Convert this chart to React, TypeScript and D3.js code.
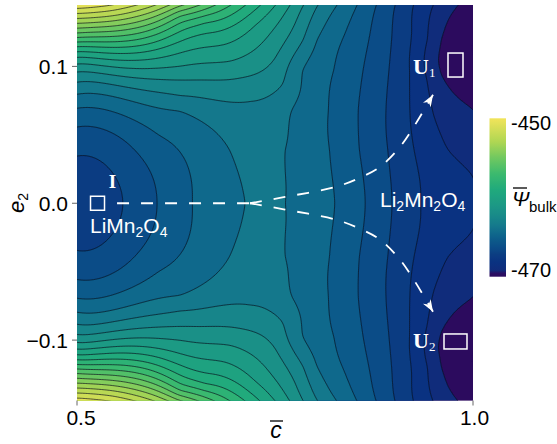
import React, { useMemo } from 'react';
import * as d3 from 'd3';

const WIDTH = 557;
const HEIGHT = 444;
const PLOT_LEFT = 77;
const PLOT_RIGHT = 473;
const PLOT_TOP = 5;
const PLOT_BOTTOM = 400.5;

const C_DOMAIN: [number, number] = [0.5, 1.0];
const E_DOMAIN: [number, number] = [-0.1445, 0.1445];
const C_TICKS = [0.5, 1.0];
const E_TICKS = [-0.1, 0.0, 0.1];
const BAR_TICKS = [-450, -470];
const BAR_LIMITS: [number, number] = [-470.95, -449.3];
const LEVELS = d3.range(-471, -449, 1);

// colour map (position, colour)
const CMAP_POS = [0, 0.022, 0.04, 0.09, 0.14, 0.18, 0.23, 0.275, 0.32, 0.37, 0.45, 0.55, 0.65, 0.75, 0.85, 1];
const CMAP_COL = ['#2c0b5e', '#2a0f64', '#102c7b', '#0a3281', '#0b3d82', '#0b4b87', '#0c5a8a', '#0f698c', '#14788c', '#17868a', '#1c9885', '#20aa7c', '#3cba6e', '#70c860', '#aed653', '#f2e45a'];

// Ψ̄bulk along e2 = 0
const ROW_C = [0.5, 0.558, 0.601, 0.645, 0.716, 0.738, 0.76, 0.826, 0.864, 0.898, 0.933, 1.0];
const ROW_PSI = [-467.6, -467, -466, -465, -464, -463.6, -464, -465, -466, -467, -468, -468.9];

// Ψ̄bulk along c̄ = 0.5
const LEFT_E = [0.0345, 0.0557, 0.0696, 0.0794, 0.0882, 0.0963, 0.1017, 0.107, 0.1108, 0.1145, 0.118, 0.121, 0.124, 0.128, 0.1315, 0.135, 0.1388, 0.1426];
const LEFT_PSI = [-467, -466, -465, -464, -463, -462, -461, -460, -459, -458, -457, -456, -455, -454, -453, -452, -451, -450];

// Ψ̄bulk along c̄ = 1.0
const RIGHT_E = [0.0208, 0.0697, 0.105, 0.1445];
const RIGHT_PSI = [-469, -470, -470.95, -470.4];

// Ψ̄bulk along the upper edge, e2 = 0.1445
const TOP_E = 0.1445;
const TOP_C = [0.5, 0.5417, 0.5732, 0.5985, 0.6174, 0.6364, 0.6553, 0.6742, 0.6932, 0.7121, 0.7311, 0.75, 0.7689, 0.7854, 0.803, 0.8283, 0.8535, 0.8775, 0.9015, 0.9242, 0.9495, 0.981];
const TOP_PSI = [-449.3, -450, -451, -452, -453, -454, -455, -456, -457, -458, -459, -460, -461, -462, -463, -464, -465, -466, -467, -468, -469, -470];

// points
const TRACE_C = [
  0.541, 0.571, 0.6023, 0.63, 0.6932,
  0.63, 0.7184, 0.7626, 0.7879,
  0.63, 0.7058, 0.75, 0.7753,
  0.63, 0.6932, 0.7374,
  0.63, 0.6869, 0.7247,
  0.63, 0.6742,
  0.63, 0.6616,
  0.63, 0.63,
  0.74,
  0.7601, 0.7689, 0.7816, 0.8005,
  0.8194, 0.8182, 0.8258, 0.8384,
  0.8561, 0.8548, 0.8611, 0.87,
  0.8927, 0.8902, 0.8939, 0.8977,
  0.9255, 0.9205, 0.9205, 0.923,
  0.9672, 0.9495, 0.9432, 0.9444,
  0.9773, 0.9583, 0.9545, 0.9583, 0.9684,
];
const TRACE_E = [
  0.025, 0.04, 0.0492, 0.0687, 0.0393,
  0.0778, 0.0752, 0.0866, 0.1193,
  0.0902, 0.0917, 0.1049, 0.1305,
  0.0998, 0.1034, 0.1193,
  0.11, 0.1159, 0.1305,
  0.118, 0.1246,
  0.1254, 0.1327,
  0.132, 0.1379,
  0.045,
  0.039, 0.0683, 0.0976, 0.1196,
  0.039, 0.0683, 0.0976, 0.1232,
  0.039, 0.0683, 0.0976, 0.1232,
  0.039, 0.0683, 0.0976, 0.1232,
  0.039, 0.0683, 0.0976, 0.1232,
  0.039, 0.0646, 0.0902, 0.1196,
  0.0792, 0.0939, 0.1049, 0.1196, 0.1342,
];
const TRACE_PSI = [
  -467, -466, -465, -464, -464,
  -463, -463, -463, -463,
  -462, -462, -462, -462,
  -461, -461, -461,
  -460, -460, -460,
  -459, -459,
  -458, -458,
  -457, -456,
  -463.4,
  -464, -464, -464, -464,
  -465, -465, -465, -465,
  -466, -466, -466, -466,
  -467, -467, -467, -467,
  -468, -468, -468, -468,
  -469, -469, -469, -469,
  -470, -470, -470, -470, -470,
];

// transformation pathway I -> saddle -> U1 / U2
const LINK_C = [0.5354, 0.7184];
const PATH_C = [0.7184, 0.7626, 0.827, 0.857, 0.8826, 0.9078, 0.9268, 0.9495];
const PATH_E = [0.0, 0.0046, 0.012, 0.0186, 0.0266, 0.0412, 0.0573, 0.0793];

// state markers (centre in data units, size in px)
const STATES = [
  { c: 0.5259, e: 0.0, w: 14, h: 14 },
  { c: 0.9779, e: 0.101, w: 15, h: 24 },
  { c: 0.9779, e: -0.101, w: 23, h: 15 },
];

const SANS = "'Liberation Sans', Arial, Helvetica, sans-serif";
const SERIF = "'Liberation Serif', 'Times New Roman', serif";

function solve(A: number[][], b: number[]): number[] {
  const n = b.length;
  const M = A.map((r, i) => [...r, b[i]]);
  for (let k = 0; k < n; k++) {
    let p = k;
    for (let i = k + 1; i < n; i++) if (Math.abs(M[i][k]) > Math.abs(M[p][k])) p = i;
    [M[k], M[p]] = [M[p], M[k]];
    for (let i = k + 1; i < n; i++) {
      const f = M[i][k] / M[k][k];
      if (f === 0) continue;
      for (let j = k; j <= n; j++) M[i][j] -= f * M[k][j];
    }
  }
  const x = new Array(n).fill(0);
  for (let i = n - 1; i >= 0; i--) {
    let s = M[i][n];
    for (let j = i + 1; j < n; j++) s -= M[i][j] * x[j];
    x[i] = s / M[i][i];
  }
  return x;
}

// smoothing thin-plate spline through the read values (mirrored in e2)
function buildSurface() {
  const raw: [number, number, number][] = [];
  ROW_C.forEach((c, i) => raw.push([c, 0, ROW_PSI[i]]));
  LEFT_E.forEach((e, i) => raw.push([0.5, e, LEFT_PSI[i]]));
  RIGHT_E.forEach((e, i) => raw.push([1.0, e, RIGHT_PSI[i]]));
  TOP_C.forEach((c, i) => raw.push([c, TOP_E, TOP_PSI[i]]));
  TRACE_C.forEach((c, i) => raw.push([c, TRACE_E[i], TRACE_PSI[i]]));
  const pts: [number, number, number][] = [];
  raw.forEach(([c, e, v]) => {
    pts.push([c, e, v]);
    if (e > 0) pts.push([c, -e, v]);
  });
  const sx = (c: number) => (c - 0.5) * 2;
  const sy = (e: number) => (e * 1366) / 396;
  const P = pts.map(([c, e, v]) => [sx(c), sy(e), v]);
  const kern = (r2: number) => (r2 <= 0 ? 0 : 0.5 * r2 * Math.log(r2));
  const n = P.length;
  const N = n + 3;
  const A = Array.from({ length: N }, () => new Array(N).fill(0));
  const b = new Array(N).fill(0);
  for (let i = 0; i < n; i++) {
    for (let j = 0; j < n; j++) {
      const dx = P[i][0] - P[j][0];
      const dy = P[i][1] - P[j][1];
      A[i][j] = kern(dx * dx + dy * dy);
    }
    A[i][i] += 1.5e-3;
    A[i][n] = 1; A[i][n + 1] = P[i][0]; A[i][n + 2] = P[i][1];
    A[n][i] = 1; A[n + 1][i] = P[i][0]; A[n + 2][i] = P[i][1];
    b[i] = P[i][2];
  }
  const w = solve(A, b);
  return (c: number, e: number) => {
    const x = sx(c);
    const y = sy(e);
    let s = w[n] + w[n + 1] * x + w[n + 2] * y;
    for (let k = 0; k < n; k++) {
      const dx = x - P[k][0];
      const dy = y - P[k][1];
      s += w[k] * kern(dx * dx + dy * dy);
    }
    return s;
  };
}

const colormap = d3.scaleLinear<string>().domain(CMAP_POS).range(CMAP_COL).interpolate(d3.interpolateRgb).clamp(true);
const colorOf = (v: number) => colormap((v - BAR_LIMITS[0]) / (BAR_LIMITS[1] - BAR_LIMITS[0]));

// small horizontal nudges of the c̄ tick labels
const C_TICK_DX = [4, 1.5];

export default function App() {
  const cScale = d3.scaleLinear().domain(C_DOMAIN).range([PLOT_LEFT, PLOT_RIGHT]);
  const eScale = d3.scaleLinear().domain(E_DOMAIN).range([401, 5.5]);

  const { bands, path } = useMemo(() => {
    const psi = buildSurface();
    const nx = 260;
    const ny = 220;
    const c0 = 0.49, c1 = 1.01, e0 = -0.156, e1 = 0.156;
    const values = new Array(nx * ny);
    for (let j = 0; j < ny; j++) {
      const e = e1 - ((j + 0.5) / ny) * (e1 - e0);
      for (let i = 0; i < nx; i++) {
        const c = c0 + ((i + 0.5) / nx) * (c1 - c0);
        values[i + j * nx] = psi(c, e);
      }
    }
    const bands = d3.contours().size([nx, ny]).thresholds(LEVELS)(values);
    const proj = d3.geoTransform({
      point(x: number, y: number) {
        (this as any).stream.point(cScale(c0 + (x / nx) * (c1 - c0)), eScale(e1 - (y / ny) * (e1 - e0)));
      },
    });
    return { bands, path: d3.geoPath(proj) };
  }, []);

  const link = d3.line<number>().x((c) => cScale(c)).y(() => eScale(0));
  const curve = (sign: number) =>
    d3
      .line<number>()
      .x((c) => cScale(c))
      .y((c, i) => eScale(sign * PATH_E[i]))
      .curve(d3.curveCatmullRom.alpha(0.5))(PATH_C) as string;

  const arrowHead = (sign: number) => {
    const n = PATH_C.length;
    const tx = cScale(PATH_C[n - 1]);
    const ty = eScale(sign * PATH_E[n - 1]);
    const px = cScale(PATH_C[n - 2]);
    const py = eScale(sign * PATH_E[n - 2]);
    const len = Math.hypot(tx - px, ty - py);
    const dx = (tx - px) / len;
    const dy = (ty - py) / len;
    const L = 12, Wd = 4.5, notch = 8.5;
    const pts = [
      [tx, ty],
      [tx - dx * L - dy * Wd, ty - dy * L + dx * Wd],
      [tx - dx * notch, ty - dy * notch],
      [tx - dx * L + dy * Wd, ty - dy * L - dx * Wd],
    ];
    return pts.map((p) => p.join(',')).join(' ');
  };

  const barY = d3.scaleLinear().domain(BAR_LIMITS).range([276.7, 118.3]);
  const gradStops = d3.range(0, 1.0001, 0.01);

  return (
    <svg width={WIDTH} height={HEIGHT} style={{ position: 'absolute', left: 0, top: 0, background: '#fff' }}>
      <defs>
        <clipPath id="plot-clip">
          <rect x={PLOT_LEFT} y={PLOT_TOP} width={PLOT_RIGHT - PLOT_LEFT} height={PLOT_BOTTOM - PLOT_TOP} />
        </clipPath>
        <linearGradient id="bar-grad" x1="0" y1="1" x2="0" y2="0">
          {gradStops.map((t) => (
            <stop key={t} offset={t} stopColor={colormap(t)} />
          ))}
        </linearGradient>
      </defs>

      <g clipPath="url(#plot-clip)">
        <rect x={PLOT_LEFT} y={PLOT_TOP} width={PLOT_RIGHT - PLOT_LEFT} height={PLOT_BOTTOM - PLOT_TOP} fill={colorOf(LEVELS[0])} />
        {bands.map((b) => (
          <path key={'f' + b.value} d={path(b as any) || ''} fill={colorOf(b.value)} stroke={colorOf(b.value)} strokeWidth={0.3} />
        ))}
        {bands.slice(1).map((b) => (
          <path key={'l' + b.value} d={path(b as any) || ''} fill="none" stroke="#0a0f1e" strokeOpacity={0.75} strokeWidth={0.9} />
        ))}

        {/* pathway */}
        <path d={link(LINK_C) as string} fill="none" stroke="#fff" strokeWidth={1.8} strokeDasharray="12,12" strokeDashoffset={12} />
        <path d={curve(1)} fill="none" stroke="#fff" strokeWidth={1.8} strokeDasharray="12,12" />
        <path d={curve(-1)} fill="none" stroke="#fff" strokeWidth={1.8} strokeDasharray="12,12" />
        <polygon points={arrowHead(1)} fill="#fff" />
        <polygon points={arrowHead(-1)} fill="#fff" />

        {STATES.map((s, i) => (
          <rect key={i} x={cScale(s.c) - s.w / 2} y={eScale(s.e) - s.h / 2} width={s.w} height={s.h} fill="none" stroke="#fff" strokeWidth={1.5} />
        ))}
      </g>

      {/* labels inside the map */}
      <text x={112.5} y={188} textAnchor="middle" fontFamily={SERIF} fontWeight="bold" fontSize={19} fill="#fff">I</text>
      <text x={90} y={233} fontFamily={SANS} fontSize={21} fill="#fff">
        LiMn<tspan fontSize={14} dy={4}>2</tspan><tspan dy={-4}>O</tspan><tspan fontSize={14} dy={4}>4</tspan>
      </text>
      <text x={380} y={207} fontFamily={SANS} fontSize={21} fill="#fff">
        Li<tspan fontSize={14} dy={4}>2</tspan><tspan dy={-4}>Mn</tspan><tspan fontSize={14} dy={4}>2</tspan><tspan dy={-4}>O</tspan><tspan fontSize={14} dy={4}>4</tspan>
      </text>
      <text x={413} y={74} fontFamily={SERIF} fontWeight="bold" fontSize={22} fill="#fff">
        U<tspan fontSize={13} fontWeight="normal" dy={3}>1</tspan>
      </text>
      <text x={413} y={348} fontFamily={SERIF} fontWeight="bold" fontSize={22} fill="#fff">
        U<tspan fontSize={13} fontWeight="normal" dy={3}>2</tspan>
      </text>

      {/* axes */}
      {E_TICKS.map((t) => (
        <g key={t}>
          <line x1={PLOT_LEFT - 5} x2={PLOT_LEFT} y1={eScale(t)} y2={eScale(t)} stroke="#666" strokeWidth={1} />
          <text x={68} y={eScale(t)} textAnchor="end" dominantBaseline="central" fontFamily={SANS} fontSize={21} fill="#000">
            {t < 0 ? '\u2212' + Math.abs(t).toFixed(1) : t.toFixed(1)}
          </text>
        </g>
      ))}
      {C_TICKS.map((t, i) => (
        <g key={t}>
          <line x1={cScale(t)} x2={cScale(t)} y1={PLOT_BOTTOM} y2={PLOT_BOTTOM + 5} stroke="#666" strokeWidth={1} />
          <text x={cScale(t) + C_TICK_DX[i]} y={425} textAnchor="middle" fontFamily={SANS} fontSize={21} fill="#000">
            {t.toFixed(1)}
          </text>
        </g>
      ))}
      <text x={276} y={438} textAnchor="middle" fontFamily={SANS} fontStyle="italic" fontSize={23} fill="#000">c</text>
      <line x1={270} x2={283} y1={421} y2={421} stroke="#000" strokeWidth={1.3} />
      <text transform="translate(24,203) rotate(-90)" textAnchor="middle" fontFamily={SANS} fontStyle="italic" fontSize={22} fill="#000">
        e<tspan fontSize={14} dy={4} fontStyle="normal">2</tspan>
      </text>

      {/* colour bar */}
      <rect x={489.5} y={118.3} width={16.5} height={158.4} fill="url(#bar-grad)" />
      {BAR_TICKS.map((t) => (
        <text key={t} x={511} y={barY(t)} dominantBaseline="central" fontFamily={SANS} fontSize={20} fill="#000">
          {String(t)}
        </text>
      ))}
      <text x={512} y={206} fontFamily={SANS} fontStyle="italic" fontSize={21} fill="#000">Ψ</text>
      <line x1={513} x2={527} y1={188} y2={188} stroke="#000" strokeWidth={1.3} />
      <text x={529} y={212} fontFamily={SANS} fontSize={15} fill="#000">bulk</text>
    </svg>
  );
}
